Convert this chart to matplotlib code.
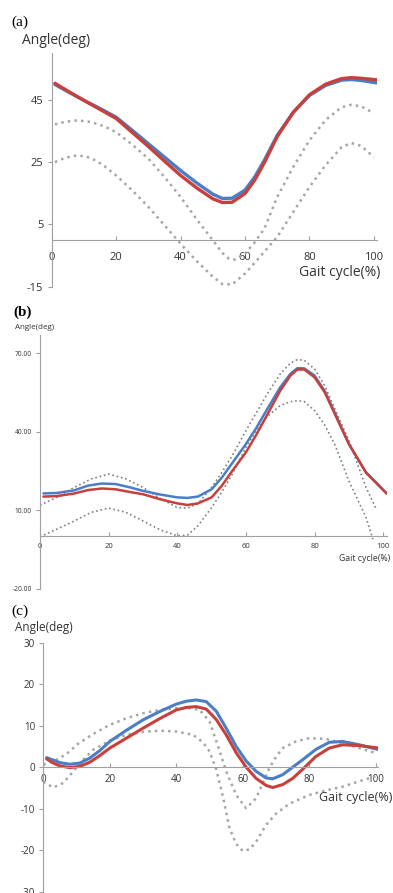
import matplotlib
matplotlib.use("Agg")
import matplotlib.pyplot as plt

# ---- data ----
# (a)
a_x_mean = [1, 5, 10, 15, 20, 25, 30, 35, 40, 45, 50, 53, 56, 60, 63, 66, 70, 75, 80, 85, 90, 93, 96, 101]
a_blue = [49.9, 47.6, 44.8, 42.2, 39.4, 35.2, 30.9, 26.6, 22.3, 18.3, 14.7, 13.3, 13.4, 16.0, 20.2, 25.6,
          33.6, 41.0, 46.4, 49.6, 51.3, 51.5, 51.2, 50.4]
a_red = [50.3, 47.8, 44.8, 41.9, 39.0, 34.5, 30.0, 25.3, 20.7, 16.7, 13.2, 12.0, 12.1, 14.9, 19.2, 24.8,
         33.2, 41.0, 46.6, 50.0, 51.8, 52.1, 51.9, 51.4]
a_x_up = [1, 4, 8, 12, 16, 20, 25, 30, 35, 40, 45, 50, 53, 55, 57, 60, 63, 66, 70, 75, 80, 85, 90, 93, 96, 100]
a_upper = [37.1, 37.9, 38.4, 37.9, 36.6, 34.6, 30.6, 26.1, 20.2, 13.8, 6.6, -0.1, -4.2, -6.0, -6.3, -4.4,
           -0.8, 3.6, 13.8, 23.5, 32.0, 38.5, 42.6, 43.4, 42.9, 40.7]
a_x_lo = [1, 4, 8, 12, 16, 20, 25, 30, 35, 40, 45, 50, 53, 56, 60, 65, 70, 75, 80, 85, 90, 93, 96, 100]
a_lower = [25.0, 26.3, 27.2, 26.4, 24.0, 20.7, 15.9, 10.6, 4.7, -1.2, -6.8, -11.8, -14.2, -14.3, -10.8,
           -5.0, 1.0, 9.0, 17.0, 24.0, 29.8, 31.1, 30.2, 26.6]

# (b)
b_x_mean = [1, 5, 10, 14, 18, 22, 26, 30, 35, 40, 43, 46, 50, 53, 56, 60, 63, 66, 70, 73, 75, 77, 80, 83,
            86, 90, 95, 101]
b_blue = [16.4, 16.6, 17.6, 19.4, 20.2, 20.0, 18.8, 17.4, 16.0, 14.9, 14.7, 15.2, 18.0, 22.5, 28.0, 35.3,
          41.4, 48.2, 57.0, 62.2, 64.3, 64.2, 61.5, 55.5, 47.0, 35.3, 24.4, 16.4]
b_red = [15.2, 15.4, 16.4, 17.7, 18.3, 18.0, 17.0, 16.1, 14.2, 12.6, 12.0, 12.6, 14.9, 19.4, 25.0, 32.1,
         38.8, 46.0, 55.7, 61.5, 63.8, 63.8, 60.8, 55.0, 46.5, 35.3, 24.4, 16.4]
b_x_up = [0, 5, 10, 15, 20, 25, 30, 35, 40, 43, 46, 50, 53, 56, 60, 63, 66, 70, 73, 75, 77, 80, 83, 86,
          90, 95, 98]
b_upper = [11.9, 15.0, 18.7, 22.0, 23.8, 22.0, 18.7, 14.5, 11.0, 10.8, 12.5, 18.7, 24.5, 30.8, 40.4, 47.2,
           54.0, 62.1, 66.3, 67.6, 67.3, 64.0, 57.5, 48.5, 36.6, 18.7, 10.4]
b_x_lo = [0, 5, 10, 15, 20, 25, 30, 35, 40, 43, 46, 50, 53, 56, 60, 63, 66, 70, 73, 75, 77, 80, 83, 86,
          90, 95, 97]
b_lower = [-0.2, 2.8, 5.9, 9.2, 10.8, 9.2, 5.9, 2.5, 0.2, 0.5, 4.0, 11.0, 17.0, 23.7, 34.0, 40.5, 45.6,
           50.0, 51.5, 51.9, 51.5, 48.1, 42.5, 34.8, 21.2, 7.2, -1.1]

# (c)
c_x_mean = [1, 3, 5, 8, 11, 14, 17, 20, 25, 30, 35, 40, 43, 46, 49, 52, 55, 58, 61, 64, 67, 69, 72, 75,
            78, 82, 86, 90, 95, 101]
c_blue = [2.3, 1.7, 1.1, 0.7, 1.0, 2.2, 4.0, 6.2, 8.9, 11.4, 13.4, 15.2, 15.9, 16.2, 15.8, 13.5, 9.4, 5.0,
          1.5, -1.0, -2.6, -2.8, -1.8, 0.0, 1.8, 4.3, 6.0, 6.2, 5.4, 4.2]
c_red = [2.0, 1.0, 0.3, -0.1, 0.2, 1.2, 2.8, 4.6, 7.0, 9.4, 11.7, 13.8, 14.4, 14.6, 14.0, 11.5, 7.8, 3.5,
         0.0, -2.7, -4.4, -4.9, -4.2, -2.7, -0.5, 2.6, 4.6, 5.4, 5.2, 4.6]
c_x_up = [0, 3, 5, 8, 10, 15, 20, 25, 30, 35, 40, 44, 47, 50, 53, 55, 58, 61, 64, 66, 68, 70, 72, 76, 80,
          85, 90, 95, 100]
c_upper = [0.6, 1.4, 2.2, 3.8, 5.4, 8.0, 10.2, 11.8, 13.0, 13.8, 14.2, 14.2, 13.8, 11.0, 4.0, -1.0, -6.7,
           -9.9, -7.5, -3.8, -0.2, 2.5, 4.6, 6.2, 7.0, 6.8, 5.8, 4.6, 3.4]
c_x_lo = [0, 3, 6, 9, 12, 15, 20, 25, 30, 35, 40, 45, 48, 50, 52, 54, 56, 58, 60, 62, 64, 67, 70, 74, 80,
          85, 90, 95, 100]
c_lower = [-3.5, -4.9, -3.8, -1.0, 1.8, 4.2, 6.4, 7.8, 8.5, 8.8, 8.6, 7.8, 6.0, 3.8, -0.5, -7.0, -14.7,
           -18.5, -20.2, -19.8, -18.0, -13.9, -11.2, -8.8, -6.7, -5.6, -4.7, -3.4, -2.2]

x_ticks = [0, 20, 40, 60, 80, 100]

BLUE = "#4a7ec6"
RED = "#c8403b"
GRAY = "#a6a6a6"
AXC = "#a0a0a0"

plt.rcParams["font.family"] = "Open Sans"
plt.rcParams["lines.solid_joinstyle"] = "round"
plt.rcParams["lines.solid_capstyle"] = "round"

fig = plt.figure(figsize=(3.93, 8.93), dpi=100)


def style_axes(ax, xlim, ylim, yticks, ylabels, tick_fs, xpad):
    ax.set_xlim(*xlim)
    ax.set_ylim(*ylim)
    for s in ["top", "right"]:
        ax.spines[s].set_visible(False)
    ax.spines["bottom"].set_position(("data", 0))
    ax.spines["left"].set_color(AXC)
    ax.spines["bottom"].set_color(AXC)
    ax.set_xticks(x_ticks)
    ax.set_xticklabels([str(t) for t in x_ticks])
    ax.set_yticks(yticks)
    ax.set_yticklabels(ylabels)
    ax.tick_params(axis="x", direction="in", length=3, color=AXC,
                   labelsize=tick_fs, pad=xpad, labelcolor="#333333")
    ax.tick_params(axis="y", direction="out", length=3, color=AXC,
                   labelsize=tick_fs, pad=3, labelcolor="#333333")
    ax.patch.set_alpha(0)


# ---------------- (a) ----------------
ax1 = fig.add_axes([0.1316, 0.679, 0.828, 0.2616])
ax1.plot(a_x_up, a_upper, ":", color=GRAY, lw=1.8)
ax1.plot(a_x_lo, a_lower, ":", color=GRAY, lw=1.8)
ax1.plot(a_x_mean, a_blue, color=BLUE, lw=2.4)
ax1.plot(a_x_mean, a_red, color=RED, lw=2.4)
style_axes(ax1, (0, 101), (-15, 60), [-15, 5, 25, 45], ["-15", "5", "25", "45"], 8, 9)
ax1.text(102, -10.3, "Gait cycle(%)", fontsize=10, ha="right", va="center", color="#333333")
fig.text(0.03, 0.975, "(a)", fontsize=11, family="Liberation Serif", va="center")
fig.text(0.055, 0.955, "Angle(deg)", fontsize=10, va="center", color="#333333")

# ---------------- (b) ----------------
ax2 = fig.add_axes([0.1018, 0.3408, 0.882, 0.2841])
ax2.plot(b_x_up, b_upper, ":", color="#808080", lw=1.2)
ax2.plot(b_x_lo, b_lower, ":", color="#808080", lw=1.2)
ax2.plot(b_x_mean, b_blue, color=BLUE, lw=1.8)
ax2.plot(b_x_mean, b_red, color=RED, lw=1.8)
style_axes(ax2, (0, 101), (-20, 77), [-20, 10, 40, 70],
           ["-20.00", "10.00", "40.00", "70.00"], 4.8, 5)
ax2.tick_params(axis="x", labelsize=5.5)
ax2.text(102, -8.5, "Gait cycle(%)", fontsize=6.3, ha="right", va="center", color="#333333")
fig.text(0.035, 0.650, "(b)", fontsize=11, family="Liberation Serif",
         weight="bold", va="center")
fig.text(0.038, 0.633, "Angle(deg)", fontsize=5.8, va="center", color="#333333")

# ---------------- (c) ----------------
ax3 = fig.add_axes([0.1102, 0.0015, 0.852, 0.2788])
ax3.plot(c_x_up, c_upper, ":", color=GRAY, lw=1.8)
ax3.plot(c_x_lo, c_lower, ":", color=GRAY, lw=1.8)
ax3.plot(c_x_mean, c_blue, color=BLUE, lw=2.2)
ax3.plot(c_x_mean, c_red, color=RED, lw=2.2)
style_axes(ax3, (0, 100.7), (-30, 30), [-30, -20, -10, 0, 10, 20, 30],
           ["-30", "-20", "-10", "0", "10", "20", "30"], 7, 5)
ax3.text(105, -7.2, "Gait cycle(%)", fontsize=9, ha="right", va="center", color="#333333")
fig.text(0.03, 0.315, "(c)", fontsize=11, family="Liberation Serif", va="center")
fig.text(0.038, 0.297, "Angle(deg)", fontsize=8.5, va="center", color="#333333")

fig.savefig("out.png", dpi=100)
